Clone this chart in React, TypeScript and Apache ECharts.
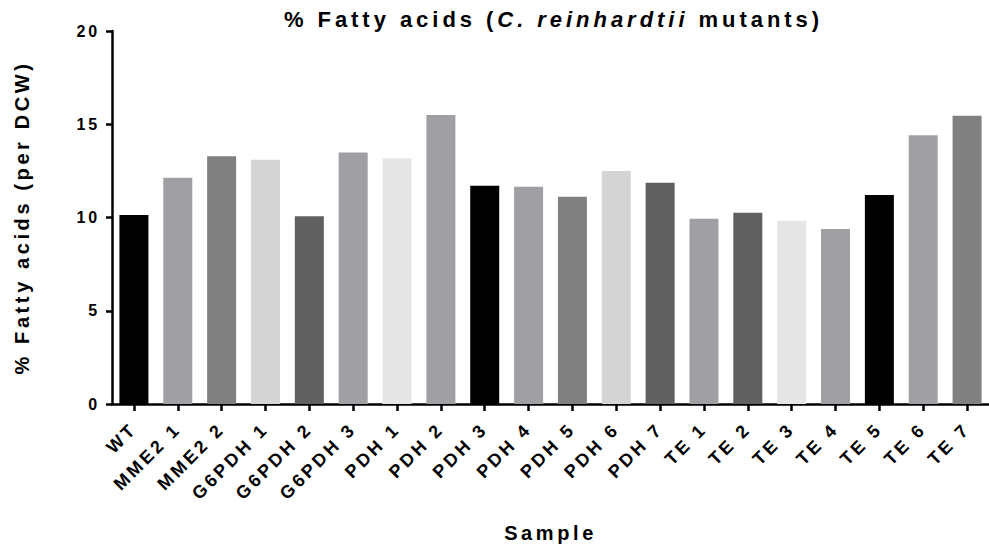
import React, { useEffect, useRef } from 'react';
import * as echarts from 'echarts';

const categories = [
  'WT', 'MME2 1', 'MME2 2', 'G6PDH 1', 'G6PDH 2', 'G6PDH 3', 'PDH 1', 'PDH 2', 'PDH 3', 'PDH 4',
  'PDH 5', 'PDH 6', 'PDH 7', 'TE 1', 'TE 2', 'TE 3', 'TE 4', 'TE 5', 'TE 6', 'TE 7',
];
const fattyAcids = [
  10.14, 12.13, 13.29, 13.09, 10.07, 13.48, 13.18, 15.49, 11.7, 11.65,
  11.11, 12.5, 11.86, 9.93, 10.25, 9.82, 9.38, 11.2, 14.41, 15.45,
];
const yTicks = [0, 5, 10, 15, 20];
const barColors = [
  '#000000', '#a0a0a4', '#808080', '#d4d4d4', '#606060', '#a0a0a4', '#e6e6e6', '#a0a0a4', '#000000', '#a0a0a4',
  '#808080', '#d4d4d4', '#606060', '#a0a0a4', '#606060', '#e6e6e6', '#a0a0a4', '#000000', '#a0a0a4', '#808080',
];
const titleParts = ['% Fatty acids (', 'C. reinhardtii', 'mutants)'];
const xAxisTitle = 'Sample';
const yAxisTitle = '% Fatty acids (per DCW)';

const FONT = '"Liberation Sans", Arial, Helvetica, sans-serif';
const SPACING_EM = 0.18;

function measure(text: string, font: string, size: number): number {
  const ctx = document.createElement('canvas').getContext('2d');
  if (!ctx) return text.length * size * 0.6;
  ctx.font = font;
  return ctx.measureText(text).width + text.length * SPACING_EM * size;
}

export default function App() {
  const ref = useRef<HTMLDivElement>(null);

  useEffect(() => {
    if (!ref.current) return;
    const chart = echarts.init(ref.current, undefined, { renderer: 'svg' });

    const gridLeft = 112;
    const gridTop = 31;
    const gridWidth = 883;
    const gridHeight = 373;

    const tSize = 22;
    const fontN = `bold ${tSize}px ${FONT}`;
    const fontI = `italic bold ${tSize}px ${FONT}`;
    const w1 = measure(titleParts[0], fontN, tSize);
    const w2 = measure(titleParts[1], fontI, tSize);
    const wSp = measure(' ', fontN, tSize);
    const w3 = measure(titleParts[2], fontN, tSize);
    const total = w1 + w2 + wSp + w3;
    const cx = gridLeft + gridWidth / 2;
    const x0 = cx - total / 2;
    const ty = 19;

    const titleText = (text: string, x: number, font: string) => ({
      type: 'text',
      x,
      y: ty,
      style: { text, font, fill: '#000', textAlign: 'left', textVerticalAlign: 'middle' },
    });

    chart.setOption({
      animation: false,
      backgroundColor: '#ffffff',
      textStyle: { fontFamily: FONT },
      graphic: [
        titleText(titleParts[0], x0, fontN),
        titleText(titleParts[1], x0 + w1, fontI),
        titleText(titleParts[2], x0 + w1 + w2 + wSp, fontN),
      ],
      grid: { left: gridLeft, top: gridTop, width: gridWidth, height: gridHeight },
      xAxis: {
        type: 'category',
        data: categories,
        name: xAxisTitle,
        nameLocation: 'middle',
        nameGap: 119,
        nameTextStyle: { fontSize: 20, fontWeight: 'bold', color: '#000', fontFamily: FONT },
        axisLine: { show: true, lineStyle: { color: '#000', width: 2.5 } },
        axisTick: { show: true, alignWithLabel: true, length: 7, lineStyle: { color: '#000', width: 2.5 } },
        axisLabel: {
          interval: 0,
          rotate: 45,
          margin: 22,
          fontSize: 18,
          fontWeight: 'bold',
          color: '#000',
          fontFamily: FONT,
        },
        splitLine: { show: false },
      },
      yAxis: {
        type: 'value',
        min: yTicks[0],
        max: yTicks[yTicks.length - 1],
        interval: yTicks[1] - yTicks[0],
        name: yAxisTitle,
        nameLocation: 'middle',
        nameGap: 80,
        nameTextStyle: { fontSize: 20, fontWeight: 'bold', color: '#000', fontFamily: FONT },
        axisLine: { show: true, lineStyle: { color: '#000', width: 2.5 } },
        axisTick: { show: true, length: 6, lineStyle: { color: '#000', width: 2.5 } },
        axisLabel: { margin: 12, fontSize: 16, fontWeight: 'bold', color: '#000', fontFamily: FONT },
        splitLine: { show: false },
      },
      series: [
        {
          type: 'bar',
          barWidth: 29,
          data: fattyAcids.map((v, i) => ({ value: v, itemStyle: { color: barColors[i] } })),
        },
      ],
    });

    return () => {
      chart.dispose();
    };
  }, []);

  return (
    <div className="fa-wrap">
      <style>{`.fa-wrap text { letter-spacing: ${SPACING_EM}em; }`}</style>
      <div
        ref={ref}
        style={{ position: 'absolute', left: 0, top: 0, width: 989, height: 550, background: '#fff' }}
      />
    </div>
  );
}
